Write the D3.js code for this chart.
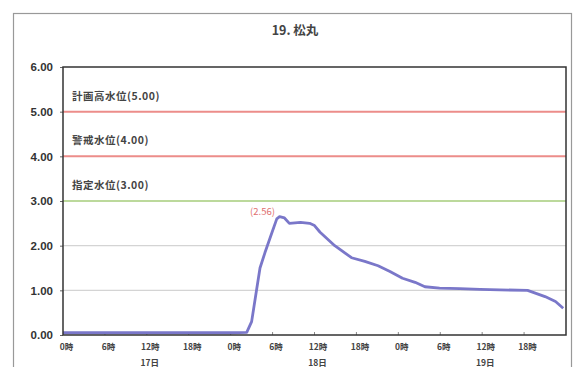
<!DOCTYPE html>
<html><head><meta charset="utf-8">
<script src="https://cdn.jsdelivr.net/npm/d3@7"></script>
<style>
body{margin:0;background:#fff;}
text{font-family:"Noto Sans CJK JP","Noto Sans",sans-serif;}
</style></head>
<body><svg id="c" width="576" height="367"></svg>
<script>
const title = "19. 松丸";
const hours = [0, 6, 12, 18, 24, 26.3, 27.0, 27.7, 28.2, 28.9, 29.9, 30.6, 31.0, 31.7, 32.4, 34.0, 35.3, 36.0, 36.8, 38.9, 41.3, 43.2, 45.1, 46.8, 48.6, 50.4, 51.8, 53.9, 56.8, 59.7, 62.5, 66.5, 69.0, 70.5, 71.6];
const levels = [0.05, 0.05, 0.05, 0.05, 0.05, 0.06, 0.3, 1.0, 1.5, 1.84, 2.29, 2.6, 2.65, 2.62, 2.5, 2.52, 2.5, 2.45, 2.3, 2.0, 1.73, 1.65, 1.55, 1.42, 1.27, 1.18, 1.08, 1.05, 1.04, 1.02, 1.01, 1.0, 0.86, 0.75, 0.6];
const yTicks = [0, 1, 2, 3, 4, 5, 6];
const xTicks = [0, 6, 12, 18, 24, 30, 36, 42, 48, 54, 60, 66, 72];
const xTickLabels = ["0時","6時","12時","18時","0時","6時","12時","18時","0時","6時","12時","18時",""];
const dateTicks = [12, 36, 60];
const dateLabels = ["17日","18日","19日"];
const thresholds = [5, 4, 3];
const thresholdLabels = ["計画高水位(5.00)","警戒水位(4.00)","指定水位(3.00)"];
const peakLabel = "(2.56)";
const peakHour = 31.0, peakValue = 2.65;

const svg = d3.select("#c");
const L = 63, R = 566, T = 67, B = 335;
const x = d3.scaleLinear().domain([0, 72]).range([L, R]);
const y = d3.scaleLinear().domain([0, 6]).range([B, T]);

// outer frame
svg.append("rect").attr("x", 13.5).attr("y", 13.5).attr("width", 558).attr("height", 360)
  .attr("fill", "none").attr("stroke", "#999").attr("stroke-width", 1.2);

svg.append("text").attr("x", 295).attr("y", 35).attr("text-anchor", "middle")
  .attr("font-size", 12.5).attr("font-weight", "bold").attr("fill", "#444").text(title);

// grid
svg.append("g").selectAll("line").data(yTicks.filter(d => d > 0 && d < 6 && thresholds.indexOf(d) < 0))
  .join("line").attr("x1", L).attr("x2", R).attr("y1", d => y(d)).attr("y2", d => y(d))
  .attr("stroke", "#d4d4d4").attr("stroke-width", 1.2);

// thresholds
const thColors = ["#ec8d8a", "#ec8d8a", "#bcd99c"];
svg.append("g").selectAll("line").data(thresholds).join("line")
  .attr("x1", L).attr("x2", R).attr("y1", d => y(d)).attr("y2", d => y(d))
  .attr("stroke", (d, i) => thColors[i]).attr("stroke-width", 2);
svg.append("g").selectAll("text").data(thresholds).join("text")
  .attr("x", L + 9).attr("y", d => y(d) - 12)
  .attr("font-size", 10.5).attr("letter-spacing", 0.5).attr("fill", "#444").attr("font-weight", "bold")
  .text((d, i) => thresholdLabels[i]);

// y axis
const ya = d3.axisLeft(y).tickValues(yTicks).tickFormat(d3.format(".2f")).tickSize(3);
const gy = svg.append("g").attr("transform", `translate(${L},0)`).call(ya);
gy.select(".domain").remove();
gy.selectAll("line").attr("stroke", "#666");
gy.selectAll("text").attr("font-size", 11.5).attr("fill", "#333").attr("font-weight", "bold").attr("dx", -4)
  .style("font-family", "'Liberation Sans',Arial,sans-serif");

// x axis
const xa = d3.axisBottom(x).tickValues(xTicks).tickFormat((d, i) => xTickLabels[i]).tickSize(0).tickPadding(9);
const gx = svg.append("g").attr("transform", `translate(0,${B})`).call(xa);
gx.select(".domain").remove();
gx.selectAll("text").attr("font-size", 8.5).attr("fill", "#444").attr("font-weight", "bold").attr("dx", 3);
svg.append("g").selectAll("line").data(xTicks.slice(1, -1)).join("line")
  .attr("x1", d => x(d)).attr("x2", d => x(d)).attr("y1", B).attr("y2", B - 3)
  .attr("stroke", "#888");
svg.append("g").selectAll("text").data(dateTicks).join("text")
  .attr("x", d => x(d) + 3).attr("y", B + 31).attr("text-anchor", "middle")
  .attr("font-size", 8.5).attr("fill", "#444").attr("font-weight", "bold")
  .text((d, i) => dateLabels[i]);

// data line
const line = d3.line().x((d, i) => x(hours[i])).y(d => y(d));
svg.append("path").datum(levels).attr("d", line).attr("fill", "none")
  .attr("stroke", "#7a77c9").attr("stroke-width", 2.8).attr("stroke-linejoin", "round");

svg.append("text").attr("x", x(peakHour) - 17).attr("y", y(peakValue) - 2).attr("text-anchor", "middle")
  .attr("font-size", 9.5).attr("fill", "#e07070").text(peakLabel);

// plot border
svg.append("rect").attr("x", L).attr("y", T).attr("width", R - L).attr("height", B - T)
  .attr("fill", "none").attr("stroke", "#333").attr("stroke-width", 1.5);
</script></body></html>
